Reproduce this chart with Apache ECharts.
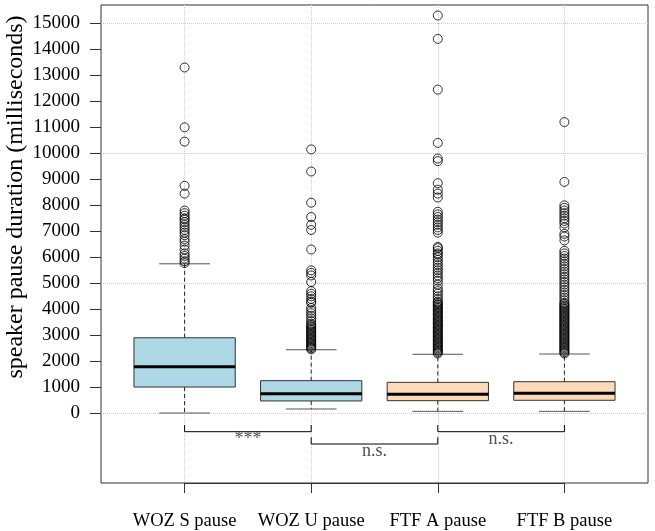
<!DOCTYPE html>
<html>
<head>
<meta charset="utf-8">
<script src="https://cdn.jsdelivr.net/npm/echarts@6/dist/echarts.min.js"></script>
<style>html,body{margin:0;padding:0;background:#fff}#c{width:655px;height:531px}</style>
</head>
<body>
<div id="c"></div>
<script>
const categories = ['WOZ S pause', 'WOZ U pause', 'FTF A pause', 'FTF B pause'];
const boxLow    = [10, 165, 75, 75];
const boxQ1     = [1010, 475, 485, 500];
const boxMedian = [1790, 755, 730, 770];
const boxQ3     = [2905, 1255, 1190, 1215];
const boxHigh   = [5750, 2445, 2270, 2280];

const outWozS = [13300, 11000, 10450, 8750, 8450, 7800, 7700, 7600, 7500, 7450, 7350, 7250, 7150, 7050, 6950, 6850, 6700, 6600, 6450, 6300, 6150, 6050, 5950, 5850, 5780];
const outWozU = [10150, 9300, 8100, 7550, 7250, 7050, 6300, 5500, 5400, 5300, 5050, 4700, 4600, 4500, 4400, 4300, 4250, 4050, 3950, 3850, 3750, 3650, 3550, 3450, 3400, 3350, 3300, 3250, 3200, 3150, 3100, 3050, 3000, 2950, 2900, 2850, 2800, 2750, 2700, 2650, 2600, 2550, 2500, 2460];
const outFtfA = [15300, 14400, 12450, 10400, 9800, 9700, 8850, 8600, 8450, 8300, 7750, 7650, 7550, 7450, 7350, 7250, 7150, 7050, 6950, 6400, 6350, 6250, 6150, 6100, 6000, 5900, 5800, 5700, 5600, 5500, 5400, 5300, 5200, 5100, 4950, 4800, 4700, 4600, 4500, 4400, 4300, 4250, 4200, 4150, 4100, 4050, 4000, 3950, 3900, 3850, 3800, 3750, 3700, 3650, 3600, 3550, 3500, 3450, 3400, 3350, 3300, 3250, 3200, 3150, 3100, 3050, 3000, 2950, 2900, 2850, 2800, 2750, 2700, 2650, 2600, 2550, 2500, 2450, 2400, 2350, 2300];
const outFtfB = [11200, 8900, 8000, 7900, 7800, 7700, 7600, 7500, 7400, 7300, 7150, 6900, 6800, 6650, 6250, 6150, 6050, 5950, 5850, 5750, 5650, 5550, 5450, 5350, 5250, 5150, 5050, 4950, 4850, 4750, 4650, 4550, 4450, 4350, 4250, 4200, 4150, 4100, 4050, 4000, 3950, 3900, 3850, 3800, 3750, 3700, 3650, 3600, 3550, 3500, 3450, 3400, 3350, 3300, 3250, 3200, 3150, 3100, 3050, 3000, 2950, 2900, 2850, 2800, 2750, 2700, 2650, 2600, 2550, 2500, 2450, 2400, 2350, 2300];
const outliers = [outWozS, outWozU, outFtfA, outFtfB];

// significance brackets: [from category index, to category index, leg top, bar level]
const bracketFrom = [0, 1, 2];
const bracketTo   = [1, 2, 3];
const bracketTop  = [-450, -923, -450];
const bracketBar  = [-708, -1181, -708];
const sigLabels   = ['***', 'n.s.', 'n.s.'];
const sigLabelY   = [-1000, -1450, -1000];

const yTitle = 'speaker pause duration (milliseconds)';

const boxColors = ['#ADD8E6', '#ADD8E6', '#FFDAB9', '#FFDAB9'];
const FONT = 'Liberation Serif';

const chart = echarts.init(document.getElementById('c'), null, {renderer: 'canvas'});

const boxData = categories.map((c, i) => [i, boxLow[i], boxQ1[i], boxMedian[i], boxQ3[i], boxHigh[i]]);

const series = [];
series.push({
  type: 'custom',
  xAxisIndex: 0, yAxisIndex: 0,
  data: boxData,
  z: 3,
  renderItem: function (params, api) {
    const i = api.value(0);
    const low = api.coord([i, api.value(1)]);
    const q1 = api.coord([i, api.value(2)]);
    const med = api.coord([i, api.value(3)]);
    const q3 = api.coord([i, api.value(4)]);
    const high = api.coord([i, api.value(5)]);
    const bw = api.size([1, 0])[0] * 0.8;
    const half = bw / 2, cap = bw / 4;
    const cx = low[0];
    const dash = {stroke: '#222', lineWidth: 1, lineDash: [4, 3]};
    return {
      type: 'group',
      children: [
        {type: 'line', shape: {x1: cx, y1: q3[1], x2: cx, y2: high[1]}, style: dash},
        {type: 'line', shape: {x1: cx, y1: q1[1], x2: cx, y2: low[1]}, style: dash},
        {type: 'line', shape: {x1: cx - cap, y1: high[1], x2: cx + cap, y2: high[1]}, style: {stroke: '#555', lineWidth: 1}},
        {type: 'line', shape: {x1: cx - cap, y1: low[1], x2: cx + cap, y2: low[1]}, style: {stroke: '#555', lineWidth: 1}},
        {type: 'rect', shape: {x: cx - half, y: q3[1], width: bw, height: q1[1] - q3[1]},
          style: {fill: boxColors[i], stroke: '#333', lineWidth: 1}},
        {type: 'line', shape: {x1: cx - half, y1: med[1], x2: cx + half, y2: med[1]}, style: {stroke: '#000', lineWidth: 3}}
      ]
    };
  }
});

outliers.forEach((arr, i) => {
  series.push({
    type: 'scatter',
    xAxisIndex: 0, yAxisIndex: 0,
    symbol: 'circle', symbolSize: 9,
    itemStyle: {color: 'rgba(0,0,0,0)', borderColor: '#000', borderWidth: 1},
    data: arr.map(v => [categories[i], v]),
    z: 4
  });
});

bracketFrom.forEach((f, k) => {
  const t = bracketTo[k];
  series.push({
    type: 'line',
    xAxisIndex: 1, yAxisIndex: 0,
    symbol: 'none',
    lineStyle: {color: '#000', width: 1},
    data: [[f, bracketTop[k]], [f, bracketBar[k]], [t, bracketBar[k]], [t, bracketTop[k]]],
    z: 2
  });
});

series.push({
  type: 'scatter',
  xAxisIndex: 1, yAxisIndex: 0,
  symbolSize: 0,
  label: {show: true, position: 'inside', formatter: '{b}', color: '#222', fontFamily: FONT, fontSize: 18},
  data: sigLabels.map((s, k) => ({name: s, value: [(bracketFrom[k] + bracketTo[k]) / 2, sigLabelY[k]]})),
  z: 5
});

const option = {
  animation: false,
  backgroundColor: '#fff',
  textStyle: {fontFamily: FONT},
  grid: [
    {left: 184.6, right: 90.6, top: 5, bottom: 48},
    {left: 101, right: 7, top: 5, bottom: 48, show: true, borderColor: '#333', borderWidth: 1, backgroundColor: 'rgba(0,0,0,0)'},
    {left: 101, right: 7, top: 23.3, bottom: 117.7}
  ],
  xAxis: [
    {type: 'category', gridIndex: 0, data: categories, boundaryGap: false,
      axisLine: {show: true, onZero: false, lineStyle: {color: '#333'}},
      axisTick: {show: true, length: 10, interval: 0, lineStyle: {color: '#333'}},
      axisLabel: {interval: 0, margin: 29, color: '#000', fontSize: 18.5, fontFamily: FONT},
      splitLine: {show: true, interval: 0, lineStyle: {color: '#ccc', type: 'dotted', width: 1}}},
    {type: 'value', gridIndex: 0, min: 0, max: 3, show: false},
    {type: 'value', gridIndex: 1, show: false},
    {type: 'value', gridIndex: 2, show: false}
  ],
  yAxis: [
    {type: 'value', gridIndex: 0, min: -2681, max: 15704, show: false},
    {type: 'value', gridIndex: 1, show: false},
    {type: 'value', gridIndex: 2, min: 0, max: 15000, interval: 1000,
      axisLine: {show: false},
      axisTick: {show: true, length: 11, lineStyle: {color: '#333'}},
      axisLabel: {margin: 21, color: '#000', fontSize: 19, fontFamily: FONT, formatter: v => String(v)},
      splitLine: {show: false}},
    {type: 'value', gridIndex: 2, min: 0, max: 15000, interval: 5000, position: 'left',
      axisLine: {show: false}, axisTick: {show: false}, axisLabel: {show: false},
      splitLine: {show: true, lineStyle: {color: '#ccc', type: 'dotted', width: 1}}}
  ],
  graphic: [{
    type: 'text', x: 16, y: 197, rotation: Math.PI / 2,
    style: {text: yTitle, font: '24px "Liberation Serif"', fill: '#000', textAlign: 'center', textVerticalAlign: 'middle'}
  }],
  series: series
};
chart.setOption(option);
</script>
</body>
</html>
